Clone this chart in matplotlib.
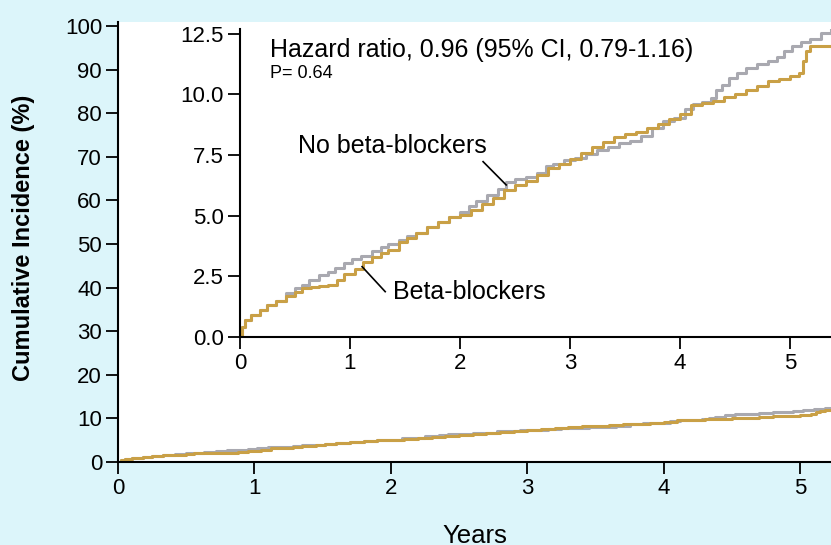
# Cumulative incidence, beta-blockers vs no beta-blockers (main + zoomed inset)
import numpy as np
import matplotlib
matplotlib.use("Agg")
import matplotlib.pyplot as plt
from matplotlib.ticker import FormatStrFormatter

plt.rcParams['font.family'] = ['Liberation Sans', 'DejaVu Sans']

# DATA (years, cumulative incidence %)
t_no = [0.00, 0.02, 0.05, 0.10, 0.18, 0.25, 0.33, 0.42, 0.50, 0.56, 0.63, 0.72, 0.80, 0.86,
        0.95, 1.02, 1.10, 1.20, 1.28, 1.35, 1.45, 1.52, 1.60, 1.70, 1.80, 1.90, 2.00, 2.08,
        2.15, 2.25, 2.35, 2.42, 2.50, 2.60, 2.70, 2.78, 2.85, 2.95, 3.05, 3.15, 3.25, 3.35,
        3.45, 3.55, 3.65, 3.75, 3.85, 3.95, 4.05, 4.12, 4.20, 4.28, 4.33, 4.38, 4.45, 4.52,
        4.60, 4.70, 4.80, 4.88, 4.95, 5.02, 5.10, 5.18, 5.28, 5.37]
v_no = [0.0, 0.4, 0.7, 0.9, 1.1, 1.3, 1.5, 1.8, 2.0, 2.15, 2.35, 2.55, 2.7, 2.85,
        3.05, 3.2, 3.35, 3.55, 3.7, 3.85, 4.0, 4.15, 4.3, 4.55, 4.75, 4.95, 5.15, 5.4,
        5.6, 5.85, 6.1, 6.4, 6.5, 6.6, 6.75, 7.05, 7.15, 7.3, 7.4, 7.55, 7.7, 7.85,
        8.0, 8.1, 8.3, 8.6, 8.9, 9.05, 9.4, 9.6, 9.7, 9.85, 10.2, 10.4, 10.7, 10.9,
        11.1, 11.25, 11.4, 11.55, 11.8, 12.0, 12.15, 12.3, 12.55, 12.7]

t_bb = [0.00, 0.02, 0.05, 0.10, 0.18, 0.25, 0.33, 0.42, 0.50, 0.56, 0.65, 0.72, 0.80, 0.88,
        0.95, 1.05, 1.12, 1.20, 1.28, 1.35, 1.45, 1.52, 1.60, 1.70, 1.80, 1.90, 2.00, 2.10,
        2.20, 2.30, 2.40, 2.50, 2.60, 2.70, 2.80, 2.90, 3.00, 3.10, 3.20, 3.30, 3.40, 3.50,
        3.60, 3.70, 3.80, 3.90, 4.00, 4.10, 4.20, 4.30, 4.40, 4.50, 4.60, 4.70, 4.80, 4.90,
        5.00, 5.08, 5.12, 5.15, 5.18, 5.37]
v_bb = [0.0, 0.4, 0.7, 0.9, 1.1, 1.3, 1.5, 1.7, 1.85, 2.0, 2.05, 2.1, 2.15, 2.35,
        2.6, 2.8, 3.1, 3.3, 3.45, 3.6, 3.9, 4.1, 4.3, 4.55, 4.75, 4.95, 5.05, 5.25,
        5.5, 5.75, 6.05, 6.25, 6.45, 6.7, 6.95, 7.15, 7.35, 7.6, 7.85, 8.05, 8.25, 8.35,
        8.45, 8.6, 8.8, 9.0, 9.2, 9.55, 9.65, 9.75, 9.9, 10.0, 10.2, 10.35, 10.55, 10.65,
        10.75, 10.9, 11.4, 11.8, 12.0, 12.0]

main_yticks = np.arange(0, 101, 10)
inset_yticks = [0.0, 2.5, 5.0, 7.5, 10.0, 12.5]
xticks = [0, 1, 2, 3, 4, 5]

bg = '#dcf5fa'
gray = '#a9a9b0'
gold = '#c9a046'

fig = plt.figure(figsize=(8.31, 5.45), dpi=100, facecolor=bg)

def style(ax):
    for s in ['top', 'right']:
        ax.spines[s].set_visible(False)
    for s in ['left', 'bottom']:
        ax.spines[s].set_linewidth(1.5)
    ax.tick_params(direction='out', length=8.5, width=1.3, labelsize=16, pad=3)
    ax.set_facecolor('white')

# main axes
ax = fig.add_axes([118/831, 83/545, 713/831, 440/545])
ax.step(t_no, v_no, where='post', color=gray, lw=2.2)
ax.step(t_bb, v_bb, where='post', color=gold, lw=2.2)
ax.set_xlim(0, 5.227)
ax.set_ylim(0, 100.9)
ax.set_xticks(xticks)
ax.set_yticks(main_yticks)
style(ax)
ax.set_xlabel('Years', fontsize=18.5)
ax.xaxis.set_label_coords(0.5, -0.14)
ax.set_ylabel('Cumulative Incidence (%)', fontsize=17, fontweight='bold')
ax.yaxis.set_label_coords(-0.117, 0.51)

# inset
ins = fig.add_axes([240/831, 208/545, 591/831, 308/545])
ins.step(t_no, v_no, where='post', color=gray, lw=2.2)
ins.step(t_bb, v_bb, where='post', color=gold, lw=2.2)
ins.set_xlim(0, 5.373)
ins.set_ylim(0, 12.7)
ins.set_xticks(xticks)
ins.set_yticks(inset_yticks)
ins.yaxis.set_major_formatter(FormatStrFormatter('%.1f'))
style(ins)
ins.patch.set_alpha(0)

ins.text(0.27, 11.84, 'Hazard ratio, 0.96 (95% CI, 0.79-1.16)', fontsize=18, va='center')
ins.text(0.27, 10.85, 'P= 0.64', fontsize=13, va='center')
ins.text(0.53, 7.88, 'No beta-blockers', fontsize=18, va='center')
ins.plot([2.21, 2.42], [7.23, 6.27], color='black', lw=1.2)
ins.text(1.39, 1.85, 'Beta-blockers', fontsize=18, va='center')
ins.plot([1.11, 1.32], [2.9, 1.87], color='black', lw=1.2)

fig.savefig('out.png', dpi=100, facecolor=bg)
